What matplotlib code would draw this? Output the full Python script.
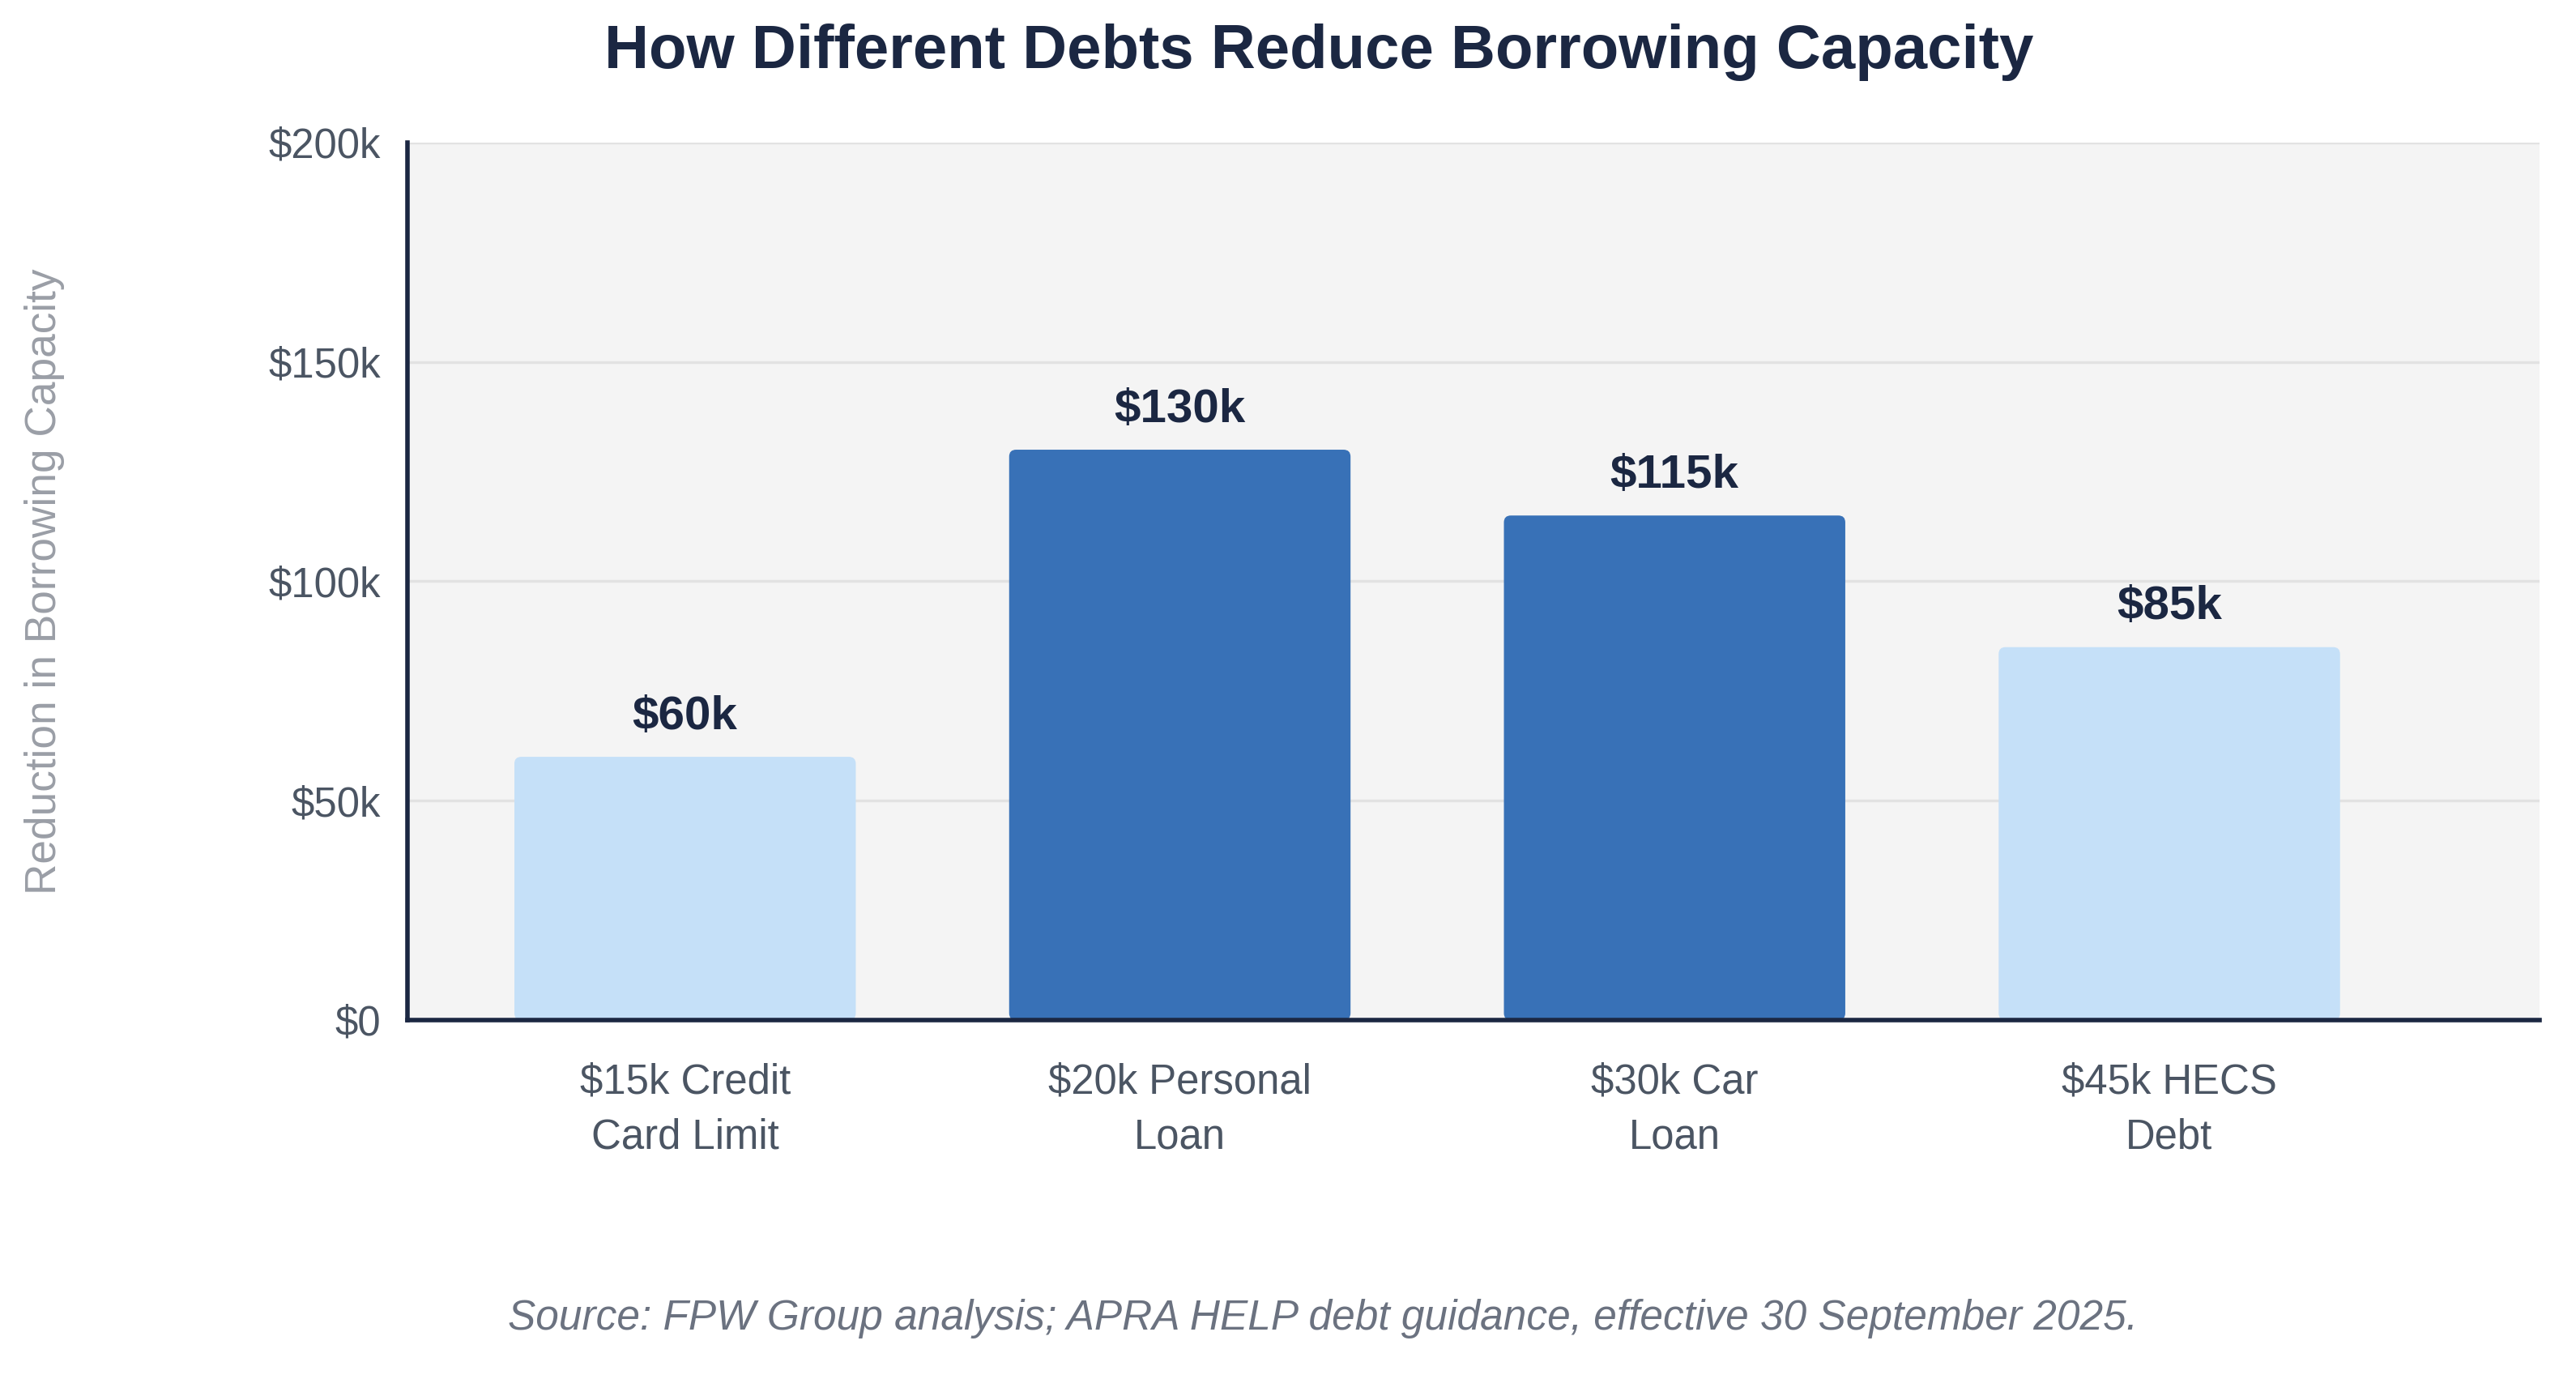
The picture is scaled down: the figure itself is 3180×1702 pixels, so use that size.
import matplotlib.pyplot as plt
from matplotlib.patches import FancyBboxPatch
from matplotlib.ticker import FuncFormatter

plt.rcParams['font.family'] = ['Liberation Sans', 'DejaVu Sans']

# values in thousands of dollars
debts = ['$15k Credit\nCard Limit', '$20k Personal\nLoan', '$30k Car\nLoan', '$45k HECS\nDebt']
reduction = [60, 130, 115, 85]
bar_colors = ['#c5e0f8', '#3871b7', '#3871b7', '#c5e0f8']
yticks = [0, 50, 100, 150, 200]

navy = '#1b2742'
grey = '#4b5563'

fig = plt.figure(figsize=(15.9, 8.51), dpi=200)
ax = fig.add_axes([0.1582, 0.2603, 0.8276, 0.6363])
ax.set_facecolor('#f4f4f4')

x = list(range(len(debts)))
bars = ax.bar(x, reduction, width=0.69, color=bar_colors, zorder=2)

# swap plain rectangles for slightly rounded ones
for b in bars:
    r = FancyBboxPatch((b.get_x(), 0), b.get_width(), b.get_height(),
                       boxstyle='round,pad=0,rounding_size=0.014',
                       mutation_aspect=112, fc=b.get_facecolor(), ec='none', zorder=2)
    ax.add_patch(r)
    b.set_visible(False)

for xi, v in zip(x, reduction):
    ax.annotate('$%dk' % v, (xi, v), xytext=(0, 8), textcoords='offset points',
                ha='center', va='bottom', fontsize=21, fontweight='bold', color=navy)

ax.set_xlim(-0.561, 3.748)
ax.set_ylim(0, 200)
ax.set_xticks(x)
ax.set_xticklabels(debts, linespacing=1.5)
ax.set_yticks(yticks)
ax.yaxis.set_major_formatter(FuncFormatter(lambda v, p: '$0' if v == 0 else '$%dk' % v))
ax.tick_params(axis='both', length=0, labelsize=18.3, labelcolor=grey)
ax.tick_params(axis='y', pad=12)
ax.tick_params(axis='x', pad=19)

ax.grid(axis='y', color='#e2e2e2', linewidth=1.2, zorder=0)
ax.set_axisbelow(True)
for s in ['top', 'right']:
    ax.spines[s].set_visible(False)
for s in ['left', 'bottom']:
    ax.spines[s].set_color(navy)
    ax.spines[s].set_linewidth(2)
    ax.spines[s].set_zorder(3)

fig.text(0.0173, 0.578, 'Reduction in Borrowing Capacity', rotation=90,
         ha='center', va='center', fontsize=19.2, color='#9a9ea6')

fig.text(0.512, 0.962, 'How Different Debts Reduce Borrowing Capacity',
         ha='center', va='center', fontsize=27.4, fontweight='bold', color=navy)

fig.text(0.5135, 0.0435, 'Source: FPW Group analysis; APRA HELP debt guidance, effective 30 September 2025.',
         ha='center', va='center', fontsize=18.5, style='italic', color='#6b7280')

fig.savefig('out.png', dpi=200, facecolor='white')
